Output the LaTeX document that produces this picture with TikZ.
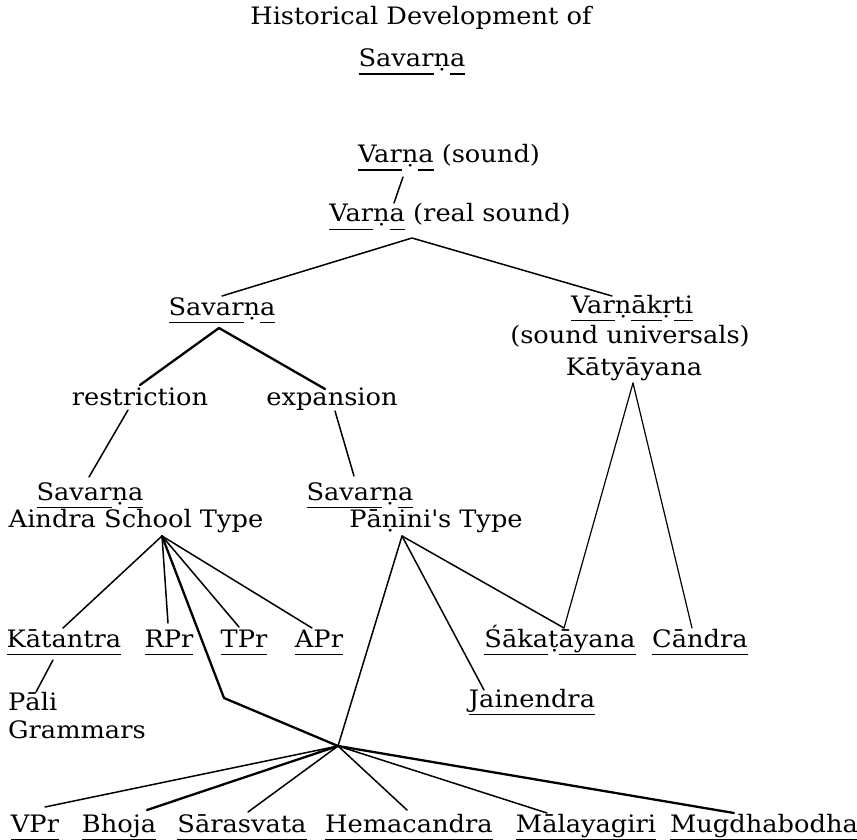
\documentclass[tikz,border=0pt]{standalone}
\usepackage{fontspec}
\setmainfont{DejaVu Serif}[FakeStretch=1.07]
\newsavebox\ulbox
\newcommand\ul[1]{\sbox\ulbox{#1}\rlap{\rule[-8pt]{\wd\ulbox}{1.5pt}}\usebox\ulbox}
\tikzset{
  txt/.style={font=\fontsize{24}{30}\selectfont, inner sep=0pt, anchor=base},
  txtl/.style={txt, anchor=base west},
  conn/.style={line width=1.5pt, line cap=round, line join=round},
  thinconn/.style={line width=1.2pt, line cap=round, line join=round},
  thickconn/.style={line width=2.3pt, line cap=round, line join=round},
}
\begin{document}
\begin{tikzpicture}[x=1pt,y=-1pt]
\fill[white] (0,0) rectangle (857,840);
\useasboundingbox (0,0) rectangle (857,840);
% texts
\node[txt] (title) at (421,25) {Historical Development of};
\node[txt] (titlesav) at (412,67) {\ul{Savar}ṇ\ul{a}};
\node[txt] (varna1) at (449,163) {\ul{Var}ṇ\ul{a} (sound)};
\node[txt] (varna2) at (450,222) {\ul{Var}ṇ\ul{a} (real sound)};
\node[txt] (sav2) at (222,315) {\ul{Savar}ṇ\ul{a}};
\node[txt] (varnakrti) at (632,313) {\ul{Var}ṇ\ul{āk}ṛ\ul{ti}};
\node[txt] (soundu) at (630,343) {(sound universals)};
\node[txt] (katy) at (634,375) {Kātyāyana};
\node[txt] (restr) at (140,405) {restriction};
\node[txt] (expan) at (332,405) {expansion};
\node[txt] (savA) at (90,500) {\ul{Savar}ṇ\ul{a}};
\node[txt] (aindra) at (136,527) {Aindra School Type};
\node[txt] (savP) at (360,500) {\ul{Savar}ṇ\ul{a}};
\node[txt] (panini) at (436,527) {Pāṇini\textquotesingle s Type};
\node[txt] (katantra) at (64,647) {\ul{Kātantra}};
\node[txt] (rpr) at (169,647) {\ul{RPr}};
\node[txt] (tpr) at (244,647) {\ul{TPr}};
\node[txt] (apr) at (319,647) {\ul{APr}};
\node[txt] (sakat) at (560,647) {\ul{Śāka}ṭ\ul{āyana}};
\node[txt] (candra) at (700,647) {\ul{Cāndra}};
\node[txtl] (pali) at (8,710) {Pāli};
\node[txtl] (gram) at (8,738) {Grammars};
\node[txt] (jain) at (532,707) {\ul{Jainendra}};
\node[txt] (vpr) at (35,832) {\ul{VPr}};
\node[txt] (bhoja) at (119,832) {\ul{Bhoja}};
\node[txt] (saras) at (242,832) {\ul{Sārasvata}};
\node[txt] (hema) at (409,832) {\ul{Hemacandra}};
\node[txt] (malay) at (586,832) {\ul{Mālayagiri}};
\node[txt] (mugdha) at (764,832) {\ul{Mugdhabodha}};
% connector points
\coordinate (v1b) at (403,177);
\coordinate (v2t) at (394,203);
\coordinate (v2apex) at (412,238);
\coordinate (sav2t) at (222,296);
\coordinate (vkt) at (612,296);
\coordinate (sav2apex) at (219,328);
\coordinate (restrT) at (140,385);
\coordinate (expanT) at (325,389);
\coordinate (restrB) at (128,410);
\coordinate (savAT) at (89,477);
\coordinate (expanB) at (335,411);
\coordinate (savPT) at (354,476);
\coordinate (aindraApex) at (162,536);
\coordinate (katT) at (63,628);
\coordinate (rprT) at (168,623);
\coordinate (tprT) at (239,627);
\coordinate (aprT) at (312,628);
\coordinate (kink) at (224,698);
\coordinate (hub) at (338,746);
\coordinate (paniniApex) at (402,536);
\coordinate (jainT) at (484,690);
\coordinate (sakT) at (564,628);
\coordinate (katyApex) at (633,383);
\coordinate (candraT) at (692,628);
\coordinate (katB) at (53,660);
\coordinate (paliT) at (36,692);
\coordinate (vprT) at (45,807);
\coordinate (bhojaT) at (147,810);
\coordinate (sarasT) at (248,812);
\coordinate (hemaT) at (407,810);
\coordinate (malayT) at (547,813);
\coordinate (mugT) at (734,813);
% connectors
\draw[conn] (v1b) -- (v2t);
\draw[conn] (sav2t) -- (v2apex) -- (vkt);
\draw[thickconn] (restrT) -- (sav2apex) -- (expanT);
\draw[conn] (restrB) -- (savAT);
\draw[conn] (expanB) -- (savPT);
\draw[conn] (aindraApex) -- (katT);
\draw[conn] (aindraApex) -- (rprT);
\draw[conn] (aindraApex) -- (tprT);
\draw[conn] (aindraApex) -- (aprT);
\draw[thickconn] (aindraApex) -- (kink) -- (hub);
\draw[conn] (paniniApex) -- (hub);
\draw[conn] (paniniApex) -- (jainT);
\draw[conn] (paniniApex) -- (sakT);
\draw[thinconn] (katyApex) -- (sakT);
\draw[thinconn] (katyApex) -- (candraT);
\draw[conn] (katB) -- (paliT);
\draw[conn] (hub) -- (vprT);
\draw[thickconn] (hub) -- (bhojaT);
\draw[conn] (hub) -- (sarasT);
\draw[conn] (hub) -- (hemaT);
\draw[conn] (hub) -- (malayT);
\draw[thickconn] (hub) -- (mugT);
\end{tikzpicture}
\end{document}
